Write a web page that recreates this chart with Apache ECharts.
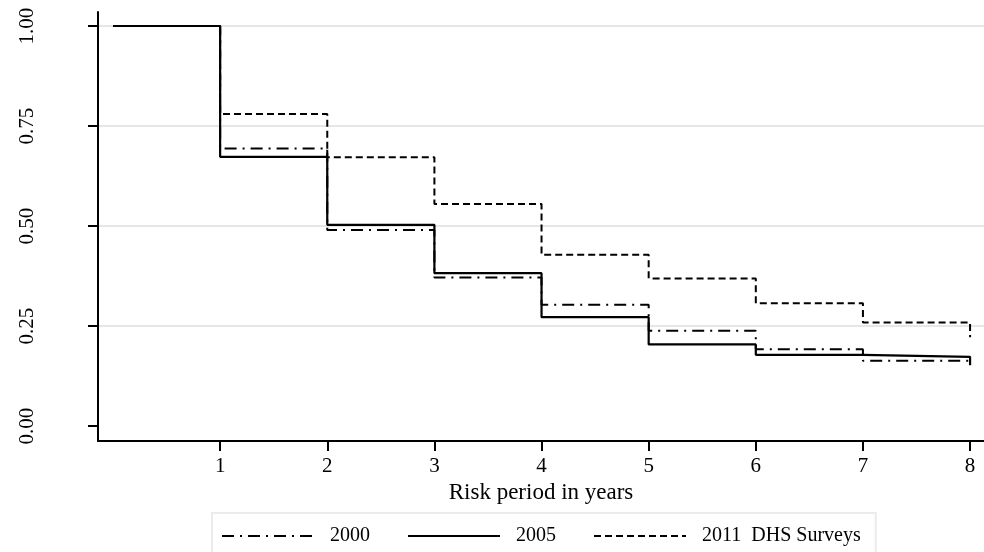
<!DOCTYPE html>
<html>
<head>
<meta charset="utf-8">
<script src="https://cdn.jsdelivr.net/npm/echarts@6/dist/echarts.min.js"></script>
<style>html,body{margin:0;padding:0;background:#fff;}#c{width:984px;height:552px;}</style>
</head>
<body>
<div id="c"></div>
<script>
// Risk period (years) at which each survival step begins
const years = [0, 1, 2, 3, 4, 5, 6, 7, 8];
const seriesNames = ['2000', '2005', '2011  DHS Surveys'];
const s2000 = [1.00, 0.694, 0.490, 0.371, 0.303, 0.238, 0.192, 0.163, 0.155];
const s2005 = [1.00, 0.673, 0.503, 0.382, 0.272, 0.204, 0.178, 0.173, 0.152];
const s2011 = [1.00, 0.780, 0.672, 0.555, 0.428, 0.369, 0.307, 0.259, 0.222];
const xTicks = [1, 2, 3, 4, 5, 6, 7, 8];
const yTicks = [0, 0.25, 0.5, 0.75, 1.0];
const yTickLabels = ['0.00', '0.25', '0.50', '0.75', '1.00'];

const FONT = 'Liberation Serif';
const pairs = arr => years.map((x, i) => [x, arr[i]]);
const dashDot = [12, 6, 2, 6];
const dashed = [7, 4];
const noMarker = {color: 'rgba(0,0,0,0)', borderColor: 'rgba(0,0,0,0)', borderWidth: 0, opacity: 0};

const chart = echarts.init(document.getElementById('c'), null, {renderer: 'canvas'});
chart.setOption({
  animation: false,
  backgroundColor: '#ffffff',
  textStyle: {fontFamily: FONT, color: '#000'},
  grid: {left: 98, right: 0, top: 12, height: 429, containLabel: false},
  legend: {
    left: 212, top: 513,
    padding: [13, 15, 13, 9],
    itemWidth: 92, itemHeight: 14, itemGap: 37,
    borderColor: '#ebebeb', borderWidth: 2, backgroundColor: '#fff',
    itemStyle: noMarker,
    textStyle: {fontFamily: FONT, fontSize: 20, color: '#000', padding: [0, 0, 0, 11]},
    data: [
      {name: seriesNames[0], itemStyle: noMarker, lineStyle: {type: dashDot, width: 2, color: '#000'}},
      {name: seriesNames[1], itemStyle: noMarker, lineStyle: {type: 'solid', width: 2, color: '#000'}},
      {name: seriesNames[2], itemStyle: noMarker, lineStyle: {type: dashed, width: 2, color: '#000'}}
    ]
  },
  xAxis: {
    type: 'value', min: -0.14, max: 8.13,
    name: 'Risk period in years', nameLocation: 'middle', nameGap: 35,
    nameTextStyle: {fontFamily: FONT, fontSize: 23, color: '#000'},
    axisLine: {show: true, onZero: false, lineStyle: {color: '#000', width: 2}},
    axisTick: {show: true, length: 10, lineStyle: {color: '#000', width: 2}, customValues: xTicks},
    axisLabel: {fontFamily: FONT, fontSize: 21, color: '#000', margin: 15, customValues: xTicks,
      formatter: v => String(Math.round(v))},
    splitLine: {show: false}
  },
  yAxis: {
    type: 'value', min: -0.0375, max: 1.035,
    axisLine: {show: true, onZero: false, lineStyle: {color: '#000', width: 2}},
    axisTick: {show: true, length: 10, lineStyle: {color: '#000', width: 2}, customValues: yTicks},
    axisLabel: {fontFamily: FONT, fontSize: 21, color: '#000', rotate: 90, margin: 60, customValues: yTicks,
      formatter: v => yTickLabels[yTicks.indexOf(Math.round(v * 100) / 100)] || ''},
    splitLine: {show: true, lineStyle: {color: ['rgba(0,0,0,0)', '#e6e6e6', '#e6e6e6', '#e6e6e6', '#e6e6e6'], width: 2}}
  },
  series: [
    {name: seriesNames[0], type: 'line', step: 'end', symbol: 'none', z: 3,
     data: pairs(s2000), lineStyle: {color: '#000', width: 2, type: dashDot}, itemStyle: {color: '#000'}},
    {name: seriesNames[2], type: 'line', step: 'end', symbol: 'none', z: 3,
     data: pairs(s2011), lineStyle: {color: '#000', width: 2, type: dashed}, itemStyle: {color: '#000'}},
    {name: seriesNames[1], type: 'line', step: 'end', symbol: 'none', z: 4,
     data: pairs(s2005), lineStyle: {color: '#000', width: 2.2, type: 'solid'}, itemStyle: {color: '#000'}}
  ]
});
</script>
</body>
</html>
